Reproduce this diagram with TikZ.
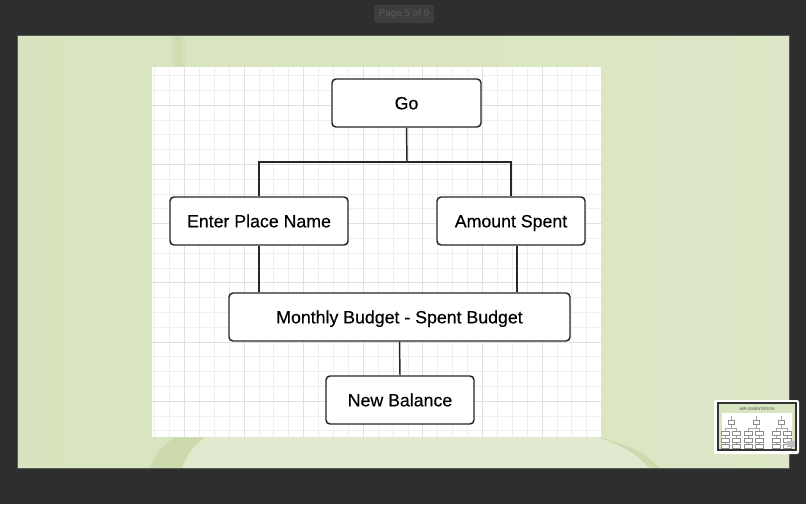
\documentclass[tikz,border=0pt]{standalone}
\usepackage{fontspec}
\setmainfont{Liberation Sans}
\newfontface\boxfont{Liberation Sans}[FakeBold=0.4]
\usepackage{tikz}

\definecolor{screenbg}{HTML}{2E2E2E}
\definecolor{slidegreen}{HTML}{D9E4C0}
\definecolor{slidelight}{HTML}{E1EACF}
\definecolor{slidedark}{HTML}{CDDAAD}
\definecolor{gridminor}{HTML}{EFEFEF}
\definecolor{gridmajor}{HTML}{E0E0E0}
\definecolor{boxline}{HTML}{262626}

\begin{document}
\begin{tikzpicture}[x=0.75pt,y=-0.75pt,
  box/.style={draw=boxline,line width=1.1pt,rounded corners=3pt,fill=white,
    minimum height=36pt,inner sep=0pt,text height=9.5pt,text depth=0pt,
    font=\boxfont\fontsize{13.3}{15}\selectfont},
  link/.style={draw=boxline,line width=1.1pt},
  pagetag/.style={fill=black!76,text=black!65,rounded corners=2pt,
    font=\fontsize{7.4}{9}\selectfont,minimum width=45pt,minimum height=13pt},
  minibox/.style={draw=black!45,fill=white,line width=0.2pt,
    minimum width=6pt,minimum height=2.5pt,inner sep=0pt}]
\useasboundingbox (0,0) rectangle (806,504);
\fill[screenbg] (0,0) rectangle (806,504);

% slide
\shade[left color=slidegreen!95!slidedark,right color=slidegreen!55!slidelight] (17,35) rectangle (789,468);
\begin{scope}
\clip (17,437) rectangle (789,468);
\fill[slidedark] (150,468) .. controls (158,450) .. (175,437) -- (600,437)
  .. controls (640,450) .. (660,468) -- cycle;
\fill[slidelight] (182,468) .. controls (190,450) .. (205,437) -- (598,437)
  .. controls (630,450) .. (650,468) -- cycle;
\end{scope}
\shade[left color=slidegreen,right color=slidegreen,middle color=slidedark] (170,35) rectangle (186,67);
\draw[black!60!slidegreen,line width=0.4pt] (17,35) rectangle (789,468);

\node[pagetag] (pagelbl) at (404,14) {Page 5 of 9};

% grid panel
\fill[white] (152,67) rectangle (601,437);
\foreach \k in {0,...,29}
  \draw[gridminor,line width=0.5pt] ({154.6+14.9*\k},67) -- ({154.6+14.9*\k},437);
\foreach \j in {0,...,24}
  \draw[gridminor,line width=0.5pt] (152,{75.5+14.8*\j}) -- (601,{75.5+14.8*\j});
\foreach \k in {2,6,...,26}
  \draw[gridmajor,line width=0.5pt] ({154.6+14.9*\k},67) -- ({154.6+14.9*\k},437);
\foreach \j in {2,6,...,22}
  \draw[gridmajor,line width=0.5pt] (152,{75.5+14.8*\j}) -- (601,{75.5+14.8*\j});

% boxes
\node[box,minimum width=111.75pt] (go) at (406.5,103) {Go};
\node[box,minimum width=133.5pt] (enter) at (259,221) {Enter Place Name};
\node[box,minimum width=111pt] (amount) at (511,221) {Amount Spent};
\node[box,minimum width=255.75pt] (monthly) at (399.5,317) {Monthly Budget - Spent Budget};
\node[box,minimum width=111pt] (newbal) at (400,400) {New Balance};

% connectors
\coordinate (split) at (407,162);
\draw[link] (go.south) -- (split);
\draw[link] (enter.north) |- (split) -| (amount.north);
\draw[link] (enter.south) -- (enter.south |- monthly.north);
\draw[link] ([xshift=4.5pt]amount.south) -- ([xshift=4.5pt]amount.south |- monthly.north);
\draw[link] (monthly.south) -- (newbal.north);

% thumbnail
\fill[white,rounded corners=1.5pt] (714,400) rectangle (799,454);
\fill[black!80] (717,402) rectangle (797,451);
\fill[slidegreen] (719,404) rectangle (795,449);
\fill[white] (722,413) rectangle (792,449);
\node[font=\fontsize{3}{3}\selectfont,text=black!70,inner sep=0pt] (thumbtitle) at (757,409) {IMPLEMENTATION};
\foreach \cx/\la/\lb in {731/725/736,756/748/759,781/776/787}{
  \draw[black!35,line width=0.2pt] (\cx,416) -- (\cx,428) (\la,428) -- (\lb,428)
    (\la,428) -- (\la,447) (\lb,428) -- (\lb,447);
  \node[minibox,minimum width=5pt] at (\cx,422) {};
  \foreach \yy in {433,440,446}{
    \node[minibox] at (\la,\yy) {};
    \node[minibox] at (\lb,\yy) {};
  }
}
\fill[black!25] (787,441) rectangle (795,447);
\end{tikzpicture}
\end{document}
